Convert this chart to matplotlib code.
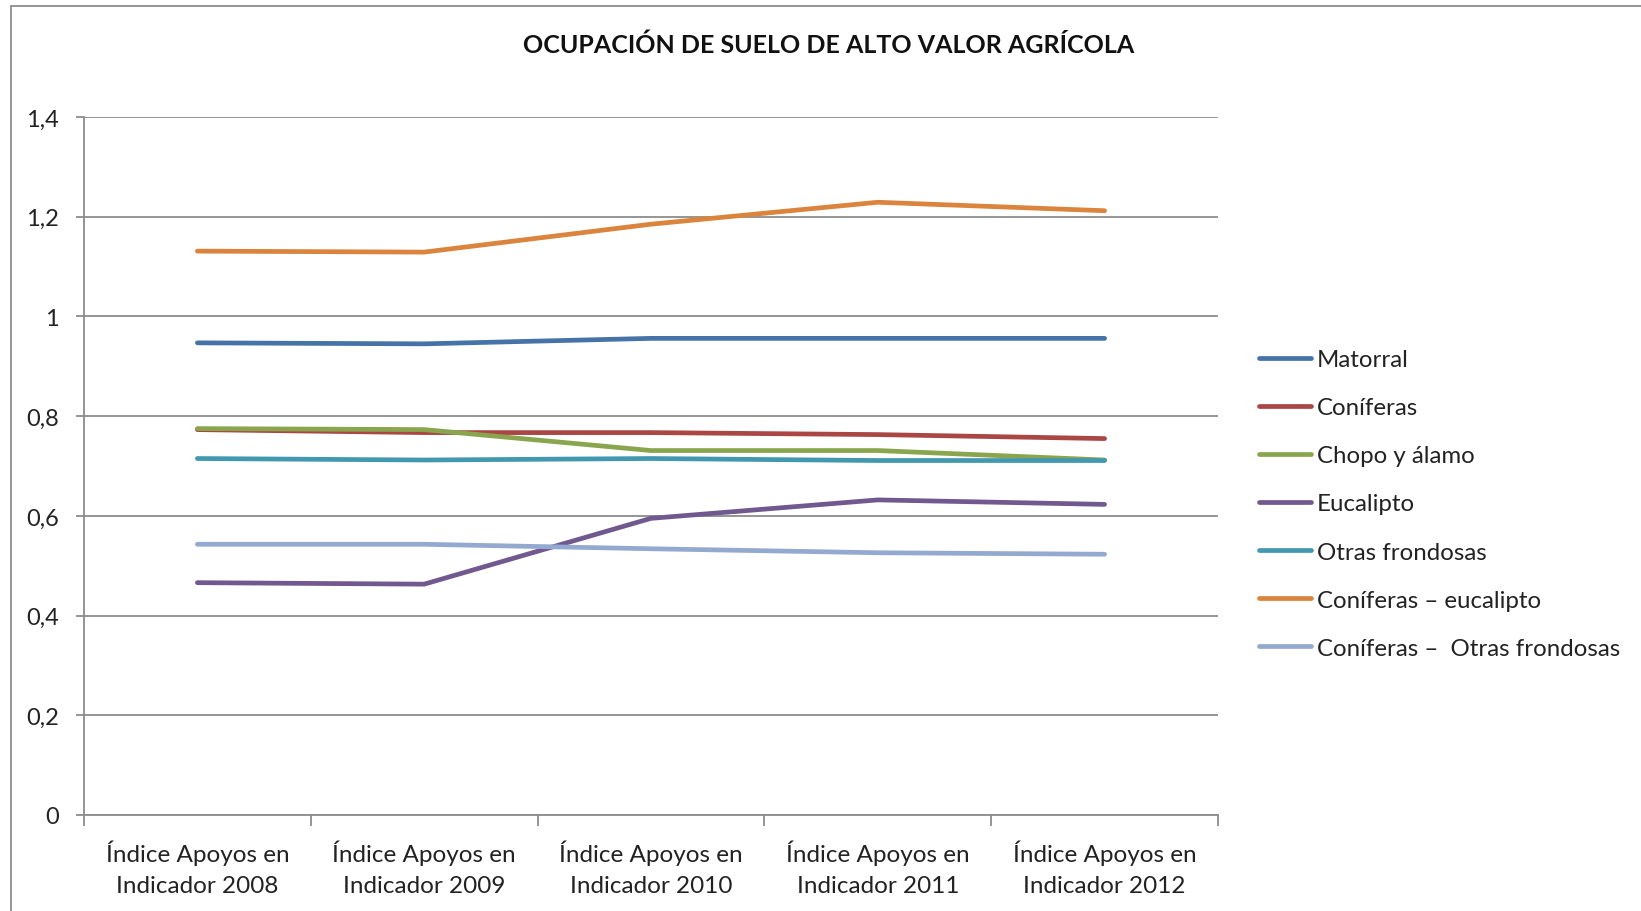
import matplotlib.pyplot as plt
from matplotlib.patches import Rectangle
from matplotlib.ticker import FuncFormatter, FixedLocator

plt.rcParams['font.family'] = ['Lato', 'DejaVu Sans']

categorias = ['Índice Apoyos en\nIndicador 2008', 'Índice Apoyos en\nIndicador 2009',
              'Índice Apoyos en\nIndicador 2010', 'Índice Apoyos en\nIndicador 2011',
              'Índice Apoyos en\nIndicador 2012']

matorral = [0.947, 0.945, 0.956, 0.956, 0.956]
coniferas = [0.773, 0.767, 0.767, 0.763, 0.755]
chopo = [0.775, 0.773, 0.731, 0.731, 0.712]
eucalipto = [0.466, 0.463, 0.595, 0.632, 0.623]
otras_frondosas = [0.715, 0.712, 0.715, 0.711, 0.711]
coniferas_eucalipto = [1.131, 1.129, 1.185, 1.229, 1.212]
coniferas_otras = [0.543, 0.543, 0.534, 0.526, 0.523]

series = [
    ('Matorral', matorral, '#4572A7'),
    ('Coníferas', coniferas, '#AA4643'),
    ('Chopo y álamo', chopo, '#89A54E'),
    ('Eucalipto', eucalipto, '#71588F'),
    ('Otras frondosas', otras_frondosas, '#4198AF'),
    ('Coníferas – eucalipto', coniferas_eucalipto, '#DB843D'),
    ('Coníferas –  Otras frondosas', coniferas_otras, '#93A9CF'),
]

W, H = 1641, 912
fig = plt.figure(figsize=(W / 100, H / 100), dpi=100)

# marco gris del gráfico (solo se ven los bordes izquierdo y superior)
fig.patches.append(Rectangle((10.5 / W, -1), 3, 1 + (1 - 6.5 / H), transform=fig.transFigure,
                             fill=False, edgecolor='#8c8c8c', linewidth=1.3))

ax = fig.add_axes([84 / W, 1 - 816 / H, (1218 - 84) / W, (816 - 118) / H])

x = list(range(len(categorias)))
for nombre, valores, color in series:
    ax.plot(x, valores, color=color, linewidth=3.4, label=nombre, solid_capstyle='round')

ax.set_xlim(-0.5, len(categorias) - 0.5)
ax.set_ylim(0, 1.4)
ax.set_yticks([0, 0.2, 0.4, 0.6, 0.8, 1.0, 1.2, 1.4])
ax.yaxis.set_major_formatter(FuncFormatter(lambda v, p: ('%g' % round(v, 1)).replace('.', ',')))
ax.grid(axis='y', color='#8c8c8c', linewidth=1.3)
ax.set_axisbelow(True)

ax.set_xticks(x)
ax.set_xticklabels(categorias, fontsize=17.5, color='#222222', linespacing=1.55)
ax.xaxis.set_minor_locator(FixedLocator([i - 0.5 for i in range(len(categorias) + 1)]))
ax.tick_params(axis='x', which='major', length=0, pad=18)
ax.tick_params(axis='x', which='minor', length=8, width=1.3, color='#8c8c8c')
ax.tick_params(axis='y', length=6, width=1.3, color='#8c8c8c', labelsize=17,
               labelcolor='#222222', pad=12)

for lado in ['top', 'right']:
    ax.spines[lado].set_visible(False)
for lado in ['left', 'bottom']:
    ax.spines[lado].set_color('#8c8c8c')
    ax.spines[lado].set_linewidth(1.3)

fig.text(829 / W, 1 - 45 / H, 'OCUPACIÓN DE SUELO DE ALTO VALOR AGRÍCOLA',
         ha='center', va='center', fontsize=18, fontweight='bold', color='#111111')

fig.legend(loc='upper left', bbox_to_anchor=(1259 / W, 1 - 350 / H), frameon=False,
           fontsize=17.3, handlelength=2.15, handletextpad=0.25, labelspacing=1.13,
           borderpad=0, borderaxespad=0, labelcolor='#222222')

fig.savefig('out.png', dpi=100)
